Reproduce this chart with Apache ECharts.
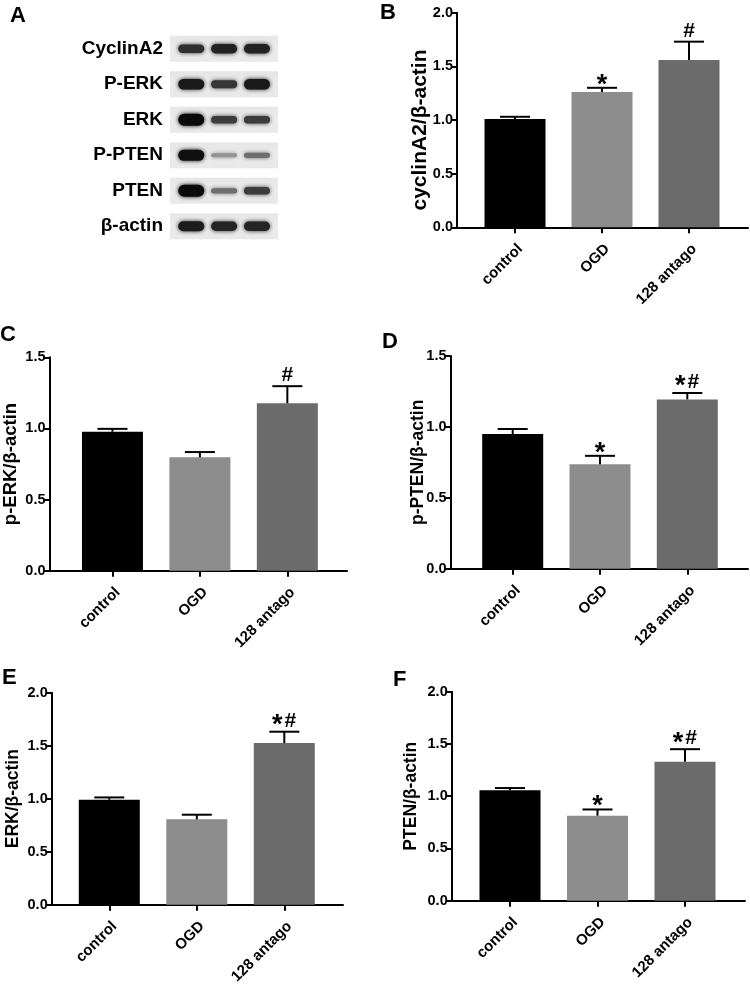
<!DOCTYPE html>
<html><head><meta charset="utf-8">
<script src="https://cdn.jsdelivr.net/npm/echarts@6/dist/echarts.min.js"></script>
<style>html,body{margin:0;padding:0;background:#fff}#c{width:750px;height:992px}</style>
</head><body><div id="c"></div>
<script>
// ---------- data ----------
const categories = ['control', 'OGD', '128 antago'];

const blotProteins = ['CyclinA2', 'P-ERK', 'ERK', 'P-PTEN', 'PTEN', 'β-actin'];
const blotIntensity = [
  [0.78, 0.85, 0.85],
  [0.9, 0.75, 0.9],
  [1.0, 0.72, 0.72],
  [0.95, 0.35, 0.5],
  [1.0, 0.5, 0.72],
  [0.88, 0.84, 0.84]
];

const bMean = [1.01, 1.26, 1.56];
const bErr  = [0.02, 0.04, 0.17];
const bSig  = ['', '*', '#'];

const cMean = [0.977, 0.797, 1.177];
const cErr  = [0.02, 0.037, 0.12];
const cSig  = ['', '', '#'];

const dMean = [0.95, 0.736, 1.194];
const dErr  = [0.035, 0.06, 0.045];
const dSig  = ['', '*', '*#'];

const eMean = [0.99, 0.805, 1.525];
const eErr  = [0.022, 0.044, 0.107];
const eSig  = ['', '', '*#'];

const fMean = [1.056, 0.813, 1.33];
const fErr  = [0.022, 0.06, 0.12];
const fSig  = ['', '*', '*#'];

const yMaxB = 2.0, yMaxC = 1.5, yMaxD = 1.5, yMaxE = 2.0, yMaxF = 2.0;
const yTickStep = 0.5;

// ---------- styles / layout ----------
const FONT = "'Liberation Sans', Arial, Helvetica, sans-serif";
const barColors = ['#000000', '#8d8d8d', '#6b6b6b'];

const panels = [
  {letter: 'B', mean: bMean, err: bErr, sig: bSig, yMax: yMaxB, title: 'cyclinA2/β-actin', titleSize: 21, titleShift: 20,
   left: 457, right: 748, top: 12.7, bottom: 227.3, tick1: 515, sp: 87, nameGap: 26, lx: 380, ly: 2},
  {letter: 'C', mean: cMean, err: cErr, sig: cSig, yMax: yMaxC, title: 'p-ERK/β-actin', titleSize: 18.5, titleShift: 0,
   left: 49.3, right: 347, top: 357.3, bottom: 570.7, tick1: 112.3, sp: 87.5, nameGap: 29.5, lx: 0, ly: 324},
  {letter: 'D', mean: dMean, err: dErr, sig: dSig, yMax: yMaxD, title: 'p-PTEN/β-actin', titleSize: 17.5, titleShift: 0,
   left: 450.5, right: 748, top: 356, bottom: 568.7, tick1: 512.7, sp: 87.3, nameGap: 23.5, lx: 382, ly: 331},
  {letter: 'E', mean: eMean, err: eErr, sig: eSig, yMax: yMaxE, title: 'ERK/β-actin', titleSize: 17.5, titleShift: 0,
   left: 51.7, right: 343, top: 692.7, bottom: 904.7, tick1: 109.3, sp: 87.5, nameGap: 30, lx: 2, ly: 667},
  {letter: 'F', mean: fMean, err: fErr, sig: fSig, yMax: yMaxF, title: 'PTEN/β-actin', titleSize: 17.5, titleShift: 0,
   left: 451.7, right: 745, top: 691.7, bottom: 900.7, tick1: 510, sp: 87.5, nameGap: 32, lx: 393, ly: 669}
];

const grid = [], xAxis = [], yAxis = [], series = [], graphic = [];

function sigChildren(s, bx, capY) {
  const out = [];
  const star = {text: '*', font: 'bold 27px ' + FONT};
  const hash = {text: '#', font: 'bold 21px ' + FONT};
  const base = {textAlign: 'center', textVerticalAlign: 'middle', fill: '#000'};
  if (s === '*') {
    out.push({type: 'text', x: bx, y: capY - 2.5, style: Object.assign({}, base, star)});
  } else if (s === '#') {
    out.push({type: 'text', x: bx, y: capY - 10.5, style: Object.assign({}, base, hash)});
  } else if (s === '*#') {
    out.push({type: 'text', x: bx - 7, y: capY - 6, style: Object.assign({}, base, star)});
    out.push({type: 'text', x: bx + 6, y: capY - 10.5, style: Object.assign({}, base, hash)});
  }
  return out;
}

panels.forEach((p, i) => {
  grid.push({left: p.left, top: p.top, width: p.right - p.left, height: p.bottom - p.top, containLabel: false});
  const tick3 = p.tick1 + 2 * p.sp;
  xAxis.push({
    type: 'value', gridIndex: i,
    min: 1 - (p.tick1 - p.left) / p.sp,
    max: 3 + (p.right - tick3) / p.sp,
    axisLine: {show: true, onZero: false, lineStyle: {color: '#000', width: 2}},
    axisTick: {show: true, customValues: [1, 2, 3], length: 6, lineStyle: {color: '#000', width: 2}},
    axisLabel: {show: true, customValues: [1, 2, 3], rotate: 45, margin: 14, align: 'right', verticalAlign: 'top',
      formatter: v => categories[Math.round(v) - 1] || '',
      fontFamily: FONT, fontWeight: 'bold', fontSize: 15, color: '#000'},
    splitLine: {show: false}
  });
  yAxis.push({
    type: 'value', gridIndex: i, min: 0, max: p.yMax, interval: yTickStep,
    name: p.title, nameLocation: 'middle', nameRotate: 90, nameGap: p.nameGap, nameMoveOverlap: false,
    nameTextStyle: {fontFamily: FONT, fontWeight: 'bold', fontSize: p.titleSize, color: '#000',
      padding: [0, p.titleShift, 0, 0]},
    axisLine: {show: true, lineStyle: {color: '#000', width: 2}},
    axisTick: {show: true, length: 6, lineStyle: {color: '#000', width: 2}},
    axisLabel: {show: true, margin: 4, formatter: v => v.toFixed(1),
      fontFamily: FONT, fontWeight: 'bold', fontSize: 14.5, color: '#000'},
    splitLine: {show: false}
  });
  series.push({
    type: 'bar', xAxisIndex: i, yAxisIndex: i, barWidth: 61, z: 2,
    data: p.mean.map((v, k) => ({value: [k + 1, v], itemStyle: {color: barColors[k]}})),
    silent: true
  });
  const sig = p.sig;
  series.push({
    type: 'custom', xAxisIndex: i, yAxisIndex: i, z: 5, silent: true,
    data: p.mean.map((v, k) => [k + 1, v, v + p.err[k]]),
    encode: {x: 0, y: [1, 2]},
    renderItem: (params, api) => {
      const x = api.value(0);
      const a = api.coord([x, api.value(1)]);
      const b = api.coord([x, api.value(2)]);
      const children = [
        {type: 'line', shape: {x1: a[0], y1: a[1], x2: b[0], y2: b[1]}, style: {stroke: '#000', lineWidth: 2}},
        {type: 'line', shape: {x1: b[0] - 15, y1: b[1], x2: b[0] + 15, y2: b[1]}, style: {stroke: '#000', lineWidth: 2}}
      ].concat(sigChildren(sig[params.dataIndex], b[0], b[1]));
      return {type: 'group', children};
    }
  });
  graphic.push({type: 'text', left: p.lx, top: p.ly,
    style: {text: p.letter, font: 'bold 22px ' + FONT, fill: '#000'}});
});

// ---------- blot panel A ----------
const gi = panels.length;
grid.push({left: 170, top: 31, width: 108, height: 213});
xAxis.push({type: 'value', gridIndex: gi, min: 0.353, max: 3.64, show: false});
yAxis.push({type: 'category', gridIndex: gi, data: blotProteins, inverse: true,
  axisLine: {show: false}, axisTick: {show: false}, splitLine: {show: false},
  axisLabel: {margin: 7, fontFamily: FONT, fontWeight: 'bold', fontSize: 19, color: '#000'}});
series.push({
  type: 'custom', xAxisIndex: gi, yAxisIndex: gi, silent: true, z: 1,
  data: blotProteins.map((p, r) => [2, r]),
  encode: {x: 0, y: 1},
  renderItem: (params, api) => {
    const c = api.coord([api.value(0), api.value(1)]);
    const cs = params.coordSys;
    return {type: 'rect', shape: {x: cs.x, y: c[1] - 13, width: cs.width, height: 26},
      style: {fill: {type: 'linear', x: 0, y: 0, x2: 0, y2: 1, colorStops: [
        {offset: 0, color: '#e6e6e6'}, {offset: 0.5, color: '#ececec'}, {offset: 1, color: '#e8e8e8'}]}}};
  }
});
const bandData = [];
blotIntensity.forEach((row, r) => row.forEach((v, l) => bandData.push([l + 1, r, v])));
series.push({
  type: 'custom', xAxisIndex: gi, yAxisIndex: gi, silent: true, z: 2,
  data: bandData,
  encode: {x: 0, y: 1},
  renderItem: (params, api) => {
    const c = api.coord([api.value(0), api.value(1)]);
    const v = api.value(2);
    const h = 3 + 9 * v * v;
    const g = Math.round(230 * Math.pow(1 - v, 1.2) + 10);
    const col = 'rgb(' + g + ',' + g + ',' + g + ')';
    return {type: 'rect', shape: {x: c[0] - 13, y: c[1] - h / 2, width: 26, height: h, r: h / 2},
      style: {fill: col, shadowBlur: 4, shadowColor: col}};
  }
});
graphic.push({type: 'text', left: 10, top: 5, style: {text: 'A', font: 'bold 22px ' + FONT, fill: '#000'}});

const chart = echarts.init(document.getElementById('c'), null, {renderer: 'canvas'});
chart.setOption({animation: false, backgroundColor: '#fff', grid, xAxis, yAxis, series, graphic});
</script>
</body></html>
